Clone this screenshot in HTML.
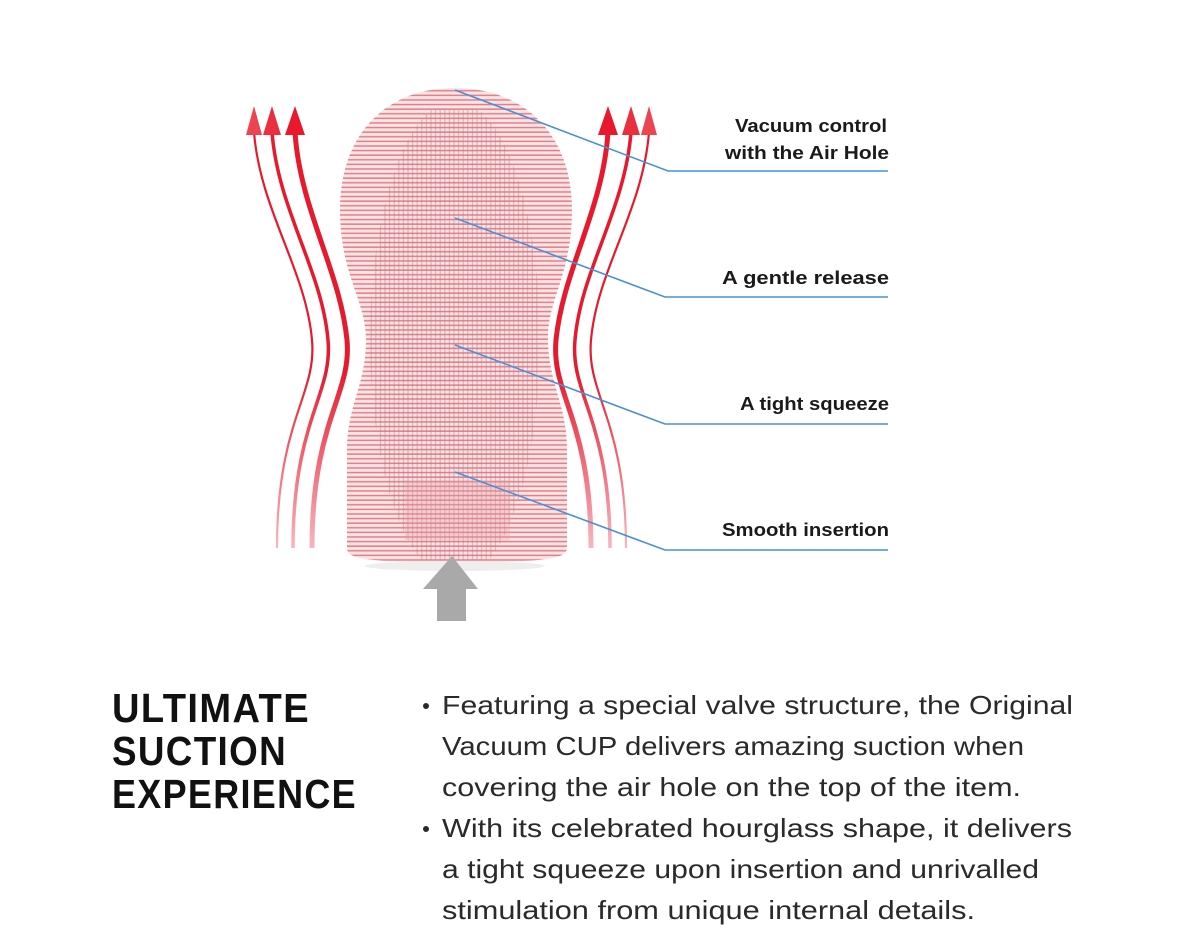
<!DOCTYPE html>
<html><head><meta charset="utf-8"><style>html,body{margin:0;padding:0;background:#fff}svg{display:block}</style></head>
<body>
<svg width="1200" height="942" viewBox="0 0 1200 942" xmlns="http://www.w3.org/2000/svg">
<defs>
<pattern id="grid" width="4.6" height="4.6" patternUnits="userSpaceOnUse">
<rect width="4.6" height="4.6" fill="#fbe4e4"/>
<rect y="2.6" width="4.6" height="1.5" fill="#e07f8b"/>
</pattern>
<pattern id="vgrid" width="4.6" height="4.6" patternUnits="userSpaceOnUse">
<rect x="2.6" width="1.2" height="4.6" fill="#b87884" opacity="0.45"/>
</pattern>
<linearGradient id="fade" x1="0" y1="100" x2="0" y2="550" gradientUnits="userSpaceOnUse">
<stop offset="0" stop-color="#e8192c"/>
<stop offset="0.6" stop-color="#e41a2e"/>
<stop offset="1" stop-color="#f7b8c0"/>
</linearGradient>
<clipPath id="cup"><path d="M455 88 C525 88 572 135 572 210 C572 275 547 300 548 340 C549 385 567 405 567 450 L567 548 C567 560 540 562 455 562 C370 562 347 560 347 548 L347 450 C347 405 366 385 366 340 C366 300 340 275 340 210 C340 135 385 88 455 88 Z"/></clipPath>
<clipPath id="inner"><ellipse cx="455" cy="340" rx="85" ry="240"/></clipPath>
</defs>

<g clip-path="url(#cup)">
<rect x="330" y="80" width="250" height="490" fill="url(#grid)"/>
<g clip-path="url(#inner)"><rect x="360" y="110" width="190" height="450" fill="url(#vgrid)"/></g>
<rect x="405" y="480" width="105" height="60" fill="#e6a0a8" opacity="0.3"/>
</g>
<ellipse cx="455" cy="566" rx="90" ry="5" fill="#eeeeee"/>

<g fill="none" stroke="url(#fade)">
<path d="M295 132 C300 210 340 270 347 340 C352 395 312 420 312 548" stroke-width="5"/>
<path d="M272 132 C278 210 322 270 328 340 C333 395 293 420 293 548" stroke-width="3.5"/>
<path d="M254 132 C260 210 306 270 312 340 C317 395 277 420 277 548" stroke-width="2.2"/>
<path d="M608 132 C603 210 563 270 556 340 C551 395 591 420 591 548" stroke-width="5"/>
<path d="M631 132 C625 210 581 270 575 340 C570 395 610 420 610 548" stroke-width="3.5"/>
<path d="M649 132 C643 210 597 270 591 340 C586 395 626 420 626 548" stroke-width="2.2"/>
</g>
<g fill="#e8192c">
<polygon points="295,106 285,135 305,135"/>
<polygon points="272,106 263,135 281,135" fill="#ea3040"/>
<polygon points="254,106 246,135 262,135" fill="#ec4450"/>
<polygon points="608,106 598,135 618,135"/>
<polygon points="631,106 622,135 640,135" fill="#ea3040"/>
<polygon points="649,106 641,135 657,135" fill="#ec4450"/>
</g>

<polygon points="452,556 478,589 466,589 466,621 437,621 437,589 423,589" fill="#a9a9a9"/>

<g fill="none" stroke="#4a90d6" stroke-width="1.6">
<polyline points="455,90 668,171 888,171"/>
<polyline points="455,218 665,297 888,297"/>
<polyline points="455,345 665,424 888,424"/>
<polyline points="455,472 665,550 888,550"/>
</g>

<g font-family="'Liberation Sans', 'DejaVu Sans', sans-serif" font-weight="bold" font-size="18" fill="#1a1a1a" text-anchor="end">
<text x="887" y="132" textLength="152" lengthAdjust="spacingAndGlyphs">Vacuum control</text>
<text x="889" y="159" textLength="164" lengthAdjust="spacingAndGlyphs">with the Air Hole</text>
<text x="889" y="284" textLength="167" lengthAdjust="spacingAndGlyphs">A gentle release</text>
<text x="889" y="410" textLength="149" lengthAdjust="spacingAndGlyphs">A tight squeeze</text>
<text x="889" y="536" textLength="167" lengthAdjust="spacingAndGlyphs">Smooth insertion</text>
</g>

<g font-family="'Liberation Sans', sans-serif" font-weight="bold" font-size="41" fill="#111" letter-spacing="1.5">
<text x="112" y="722" textLength="198" lengthAdjust="spacingAndGlyphs">ULTIMATE</text>
<text x="112" y="765" textLength="175" lengthAdjust="spacingAndGlyphs">SUCTION</text>
<text x="112" y="808" textLength="245" lengthAdjust="spacingAndGlyphs">EXPERIENCE</text>
</g>

<g font-family="'Liberation Sans', sans-serif" font-size="26" fill="#2a2a2a">
<circle cx="426" cy="706" r="3" fill="#2a2a2a"/>
<circle cx="426" cy="829" r="3" fill="#2a2a2a"/>
<text x="442" y="714" textLength="631" lengthAdjust="spacingAndGlyphs">Featuring a special valve structure, the Original</text>
<text x="442" y="755" textLength="582" lengthAdjust="spacingAndGlyphs">Vacuum CUP delivers amazing suction when</text>
<text x="442" y="796" textLength="579" lengthAdjust="spacingAndGlyphs">covering the air hole on the top of the item.</text>
<text x="442" y="837" textLength="630" lengthAdjust="spacingAndGlyphs">With its celebrated hourglass shape, it delivers</text>
<text x="442" y="878" textLength="597" lengthAdjust="spacingAndGlyphs">a tight squeeze upon insertion and unrivalled</text>
<text x="442" y="919" textLength="533" lengthAdjust="spacingAndGlyphs">stimulation from unique internal details.</text>
</g>
</svg>
</body></html>
